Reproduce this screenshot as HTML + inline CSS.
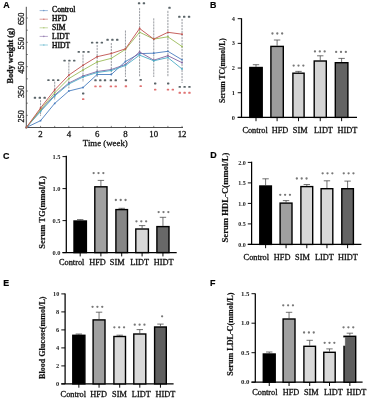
<!DOCTYPE html>
<html><head><meta charset="utf-8"><style>
html,body{margin:0;padding:0;background:#fff;}
body{width:369px;height:400px;overflow:hidden;font-family:"Liberation Serif", serif;}
svg{display:block;will-change:transform;}
text{stroke-linejoin:round;}
.t{stroke:#111;stroke-width:0.3px;}
.t2{stroke:#111;stroke-width:0.2px;}
</style></head><body>
<svg width="369" height="400" viewBox="0 0 369 400">
<rect width="369" height="400" fill="#fff"/>
<text x="3.3" y="7.9" font-family='"Liberation Sans", sans-serif' font-weight="bold" font-size="8.9" class="t2">A</text>
<line x1="26.3" y1="6.8" x2="26.3" y2="127.5" stroke="#222" stroke-width="0.8"/>
<line x1="26.3" y1="127.5" x2="183" y2="127.5" stroke="#222" stroke-width="0.8"/>
<line x1="26.3" y1="115.34" x2="27.900000000000002" y2="115.34" stroke="#333" stroke-width="0.6"/>
<line x1="26.3" y1="103.17" x2="27.900000000000002" y2="103.17" stroke="#333" stroke-width="0.6"/>
<line x1="26.3" y1="91" x2="27.900000000000002" y2="91" stroke="#333" stroke-width="0.6"/>
<line x1="26.3" y1="78.84" x2="27.900000000000002" y2="78.84" stroke="#333" stroke-width="0.6"/>
<line x1="26.3" y1="66.68" x2="27.900000000000002" y2="66.68" stroke="#333" stroke-width="0.6"/>
<line x1="26.3" y1="54.51" x2="27.900000000000002" y2="54.51" stroke="#333" stroke-width="0.6"/>
<line x1="26.3" y1="42.34" x2="27.900000000000002" y2="42.34" stroke="#333" stroke-width="0.6"/>
<line x1="26.3" y1="30.18" x2="27.900000000000002" y2="30.18" stroke="#333" stroke-width="0.6"/>
<line x1="26.3" y1="18.02" x2="27.900000000000002" y2="18.02" stroke="#333" stroke-width="0.6"/>
<text transform="translate(23.9,116.24) rotate(-90)" text-anchor="middle" font-family='"Liberation Serif", serif' font-size="8.2" fill="#222" class="t">250</text>
<text transform="translate(23.9,91.91) rotate(-90)" text-anchor="middle" font-family='"Liberation Serif", serif' font-size="8.2" fill="#222" class="t">350</text>
<text transform="translate(23.9,67.58) rotate(-90)" text-anchor="middle" font-family='"Liberation Serif", serif' font-size="8.2" fill="#222" class="t">450</text>
<text transform="translate(23.9,43.24) rotate(-90)" text-anchor="middle" font-family='"Liberation Serif", serif' font-size="8.2" fill="#222" class="t">550</text>
<text transform="translate(23.9,18.91) rotate(-90)" text-anchor="middle" font-family='"Liberation Serif", serif' font-size="8.2" fill="#222" class="t">650</text>
<line x1="40.55" y1="127.5" x2="40.55" y2="125.9" stroke="#333" stroke-width="0.6"/>
<line x1="54.7" y1="127.5" x2="54.7" y2="125.9" stroke="#333" stroke-width="0.6"/>
<line x1="68.85" y1="127.5" x2="68.85" y2="125.9" stroke="#333" stroke-width="0.6"/>
<line x1="83" y1="127.5" x2="83" y2="125.9" stroke="#333" stroke-width="0.6"/>
<line x1="97.15" y1="127.5" x2="97.15" y2="125.9" stroke="#333" stroke-width="0.6"/>
<line x1="111.3" y1="127.5" x2="111.3" y2="125.9" stroke="#333" stroke-width="0.6"/>
<line x1="125.45" y1="127.5" x2="125.45" y2="125.9" stroke="#333" stroke-width="0.6"/>
<line x1="139.6" y1="127.5" x2="139.6" y2="125.9" stroke="#333" stroke-width="0.6"/>
<line x1="153.75" y1="127.5" x2="153.75" y2="125.9" stroke="#333" stroke-width="0.6"/>
<line x1="167.9" y1="127.5" x2="167.9" y2="125.9" stroke="#333" stroke-width="0.6"/>
<line x1="182.05" y1="127.5" x2="182.05" y2="125.9" stroke="#333" stroke-width="0.6"/>
<text x="40.55" y="136.6" text-anchor="middle" font-family='"Liberation Serif", serif' font-size="8.8" fill="#222" class="t">2</text>
<text x="68.85" y="136.6" text-anchor="middle" font-family='"Liberation Serif", serif' font-size="8.8" fill="#222" class="t">4</text>
<text x="97.15" y="136.6" text-anchor="middle" font-family='"Liberation Serif", serif' font-size="8.8" fill="#222" class="t">6</text>
<text x="125.45" y="136.6" text-anchor="middle" font-family='"Liberation Serif", serif' font-size="8.8" fill="#222" class="t">8</text>
<text x="153.75" y="136.6" text-anchor="middle" font-family='"Liberation Serif", serif' font-size="8.8" fill="#222" class="t">10</text>
<text x="182.05" y="136.6" text-anchor="middle" font-family='"Liberation Serif", serif' font-size="8.8" fill="#222" class="t">12</text>
<text x="105.3" y="146.3" text-anchor="middle" font-family='"Liberation Serif", serif' font-size="8.8" fill="#222" class="t">Time (week)</text>
<text transform="translate(13.2,55.8) rotate(-90) scale(0.93,1)" text-anchor="middle" font-family='"Liberation Serif", serif' font-weight="bold" font-size="8.9" fill="#111" class="t">Body weight (g)</text>
<line x1="40.55" y1="100.2" x2="40.55" y2="116" stroke="#9a9ca2" stroke-width="1.0" stroke-dasharray="2.2 0.8"/>
<line x1="54.7" y1="81.6" x2="54.7" y2="100" stroke="#9a9ca2" stroke-width="1.0" stroke-dasharray="2.2 0.8"/>
<line x1="68.85" y1="62.5" x2="68.85" y2="88.3" stroke="#9a9ca2" stroke-width="1.0" stroke-dasharray="2.2 0.8"/>
<line x1="83" y1="54.6" x2="83" y2="82" stroke="#9a9ca2" stroke-width="1.0" stroke-dasharray="2.2 0.8"/>
<line x1="97.15" y1="45" x2="97.15" y2="77" stroke="#9a9ca2" stroke-width="1.0" stroke-dasharray="2.2 0.8"/>
<line x1="111.3" y1="43" x2="111.3" y2="75" stroke="#9a9ca2" stroke-width="1.0" stroke-dasharray="2.2 0.8"/>
<line x1="125.45" y1="30.5" x2="125.45" y2="77" stroke="#9a9ca2" stroke-width="1.0" stroke-dasharray="2.2 0.8"/>
<line x1="139.6" y1="8.1" x2="139.6" y2="77" stroke="#9a9ca2" stroke-width="1.0" stroke-dasharray="2.2 0.8"/>
<line x1="153.75" y1="18.3" x2="153.75" y2="77" stroke="#9a9ca2" stroke-width="1.0" stroke-dasharray="2.2 0.8"/>
<line x1="167.9" y1="10.8" x2="167.9" y2="77" stroke="#9a9ca2" stroke-width="1.0" stroke-dasharray="2.2 0.8"/>
<line x1="182.05" y1="19" x2="182.05" y2="83" stroke="#9a9ca2" stroke-width="1.0" stroke-dasharray="2.2 0.8"/>
<polyline points="26.4,127.4 40.55,120.7 54.7,103.4 68.85,91 83,87.5 97.15,74.5 111.3,74.5 125.45,61.5 139.6,53.6 153.75,53.2 167.9,51.3 182.05,59.8" fill="none" stroke="#4a7ec0" stroke-width="0.9"/>
<circle cx="26.4" cy="127.4" r="0.9" fill="#4a7ec0"/>
<circle cx="40.55" cy="120.7" r="0.9" fill="#4a7ec0"/>
<circle cx="54.7" cy="103.4" r="0.9" fill="#4a7ec0"/>
<circle cx="68.85" cy="91" r="0.9" fill="#4a7ec0"/>
<circle cx="83" cy="87.5" r="0.9" fill="#4a7ec0"/>
<circle cx="97.15" cy="74.5" r="0.9" fill="#4a7ec0"/>
<circle cx="111.3" cy="74.5" r="0.9" fill="#4a7ec0"/>
<circle cx="125.45" cy="61.5" r="0.9" fill="#4a7ec0"/>
<circle cx="139.6" cy="53.6" r="0.9" fill="#4a7ec0"/>
<circle cx="153.75" cy="53.2" r="0.9" fill="#4a7ec0"/>
<circle cx="167.9" cy="51.3" r="0.9" fill="#4a7ec0"/>
<circle cx="182.05" cy="59.8" r="0.9" fill="#4a7ec0"/>
<polyline points="26.4,127.4 40.55,110.5 54.7,95 68.85,83 83,76 97.15,71.5 111.3,69.5 125.45,64.5 139.6,51.9 153.75,60.2 167.9,55.7 182.05,62.7" fill="none" stroke="#8064a2" stroke-width="0.9"/>
<circle cx="26.4" cy="127.4" r="0.9" fill="#8064a2"/>
<circle cx="40.55" cy="110.5" r="0.9" fill="#8064a2"/>
<circle cx="54.7" cy="95" r="0.9" fill="#8064a2"/>
<circle cx="68.85" cy="83" r="0.9" fill="#8064a2"/>
<circle cx="83" cy="76" r="0.9" fill="#8064a2"/>
<circle cx="97.15" cy="71.5" r="0.9" fill="#8064a2"/>
<circle cx="111.3" cy="69.5" r="0.9" fill="#8064a2"/>
<circle cx="125.45" cy="64.5" r="0.9" fill="#8064a2"/>
<circle cx="139.6" cy="51.9" r="0.9" fill="#8064a2"/>
<circle cx="153.75" cy="60.2" r="0.9" fill="#8064a2"/>
<circle cx="167.9" cy="55.7" r="0.9" fill="#8064a2"/>
<circle cx="182.05" cy="62.7" r="0.9" fill="#8064a2"/>
<polyline points="26.4,127.4 40.55,111.5 54.7,96 68.85,84 83,77 97.15,72.5 111.3,70.5 125.45,65.5 139.6,55.1 153.75,60.8 167.9,57.6 182.05,69" fill="none" stroke="#4bacc6" stroke-width="0.9"/>
<circle cx="26.4" cy="127.4" r="0.9" fill="#4bacc6"/>
<circle cx="40.55" cy="111.5" r="0.9" fill="#4bacc6"/>
<circle cx="54.7" cy="96" r="0.9" fill="#4bacc6"/>
<circle cx="68.85" cy="84" r="0.9" fill="#4bacc6"/>
<circle cx="83" cy="77" r="0.9" fill="#4bacc6"/>
<circle cx="97.15" cy="72.5" r="0.9" fill="#4bacc6"/>
<circle cx="111.3" cy="70.5" r="0.9" fill="#4bacc6"/>
<circle cx="125.45" cy="65.5" r="0.9" fill="#4bacc6"/>
<circle cx="139.6" cy="55.1" r="0.9" fill="#4bacc6"/>
<circle cx="153.75" cy="60.8" r="0.9" fill="#4bacc6"/>
<circle cx="167.9" cy="57.6" r="0.9" fill="#4bacc6"/>
<circle cx="182.05" cy="69" r="0.9" fill="#4bacc6"/>
<polyline points="26.4,127.4 40.55,109.5 54.7,92.8 68.85,78.6 83,70 97.15,62 111.3,58.3 125.45,49.4 139.6,32.2 153.75,39.1 167.9,36.8 182.05,46.5" fill="none" stroke="#9bbb59" stroke-width="0.9"/>
<circle cx="26.4" cy="127.4" r="0.9" fill="#9bbb59"/>
<circle cx="40.55" cy="109.5" r="0.9" fill="#9bbb59"/>
<circle cx="54.7" cy="92.8" r="0.9" fill="#9bbb59"/>
<circle cx="68.85" cy="78.6" r="0.9" fill="#9bbb59"/>
<circle cx="83" cy="70" r="0.9" fill="#9bbb59"/>
<circle cx="97.15" cy="62" r="0.9" fill="#9bbb59"/>
<circle cx="111.3" cy="58.3" r="0.9" fill="#9bbb59"/>
<circle cx="125.45" cy="49.4" r="0.9" fill="#9bbb59"/>
<circle cx="139.6" cy="32.2" r="0.9" fill="#9bbb59"/>
<circle cx="153.75" cy="39.1" r="0.9" fill="#9bbb59"/>
<circle cx="167.9" cy="36.8" r="0.9" fill="#9bbb59"/>
<circle cx="182.05" cy="46.5" r="0.9" fill="#9bbb59"/>
<polyline points="26.4,127.4 40.55,108 54.7,89.9 68.85,75.1 83,65.3 97.15,56.7 111.3,53.5 125.45,48.8 139.6,28.5 153.75,39.1 167.9,32.3 182.05,34.2" fill="none" stroke="#c0504d" stroke-width="0.9"/>
<circle cx="26.4" cy="127.4" r="0.9" fill="#c0504d"/>
<circle cx="40.55" cy="108" r="0.9" fill="#c0504d"/>
<circle cx="54.7" cy="89.9" r="0.9" fill="#c0504d"/>
<circle cx="68.85" cy="75.1" r="0.9" fill="#c0504d"/>
<circle cx="83" cy="65.3" r="0.9" fill="#c0504d"/>
<circle cx="97.15" cy="56.7" r="0.9" fill="#c0504d"/>
<circle cx="111.3" cy="53.5" r="0.9" fill="#c0504d"/>
<circle cx="125.45" cy="48.8" r="0.9" fill="#c0504d"/>
<circle cx="139.6" cy="28.5" r="0.9" fill="#c0504d"/>
<circle cx="153.75" cy="39.1" r="0.9" fill="#c0504d"/>
<circle cx="167.9" cy="32.3" r="0.9" fill="#c0504d"/>
<circle cx="182.05" cy="34.2" r="0.9" fill="#c0504d"/>
<rect x="33.75" y="96.85" width="2.4" height="1.9" rx="0.6" fill="#5a6468"/>
<rect x="38.6" y="96.85" width="2.4" height="1.9" rx="0.6" fill="#5a6468"/>
<rect x="43.45" y="96.85" width="2.4" height="1.9" rx="0.6" fill="#5a6468"/>
<rect x="47.25" y="79.15" width="2.4" height="1.9" rx="0.6" fill="#5a6468"/>
<rect x="52.1" y="79.15" width="2.4" height="1.9" rx="0.6" fill="#5a6468"/>
<rect x="56.95" y="79.15" width="2.4" height="1.9" rx="0.6" fill="#5a6468"/>
<rect x="63.35" y="59.65" width="2.4" height="1.9" rx="0.6" fill="#5a6468"/>
<rect x="68.2" y="59.65" width="2.4" height="1.9" rx="0.6" fill="#5a6468"/>
<rect x="73.05" y="59.65" width="2.4" height="1.9" rx="0.6" fill="#5a6468"/>
<rect x="77.55" y="50.95" width="2.4" height="1.9" rx="0.6" fill="#5a6468"/>
<rect x="82.4" y="50.95" width="2.4" height="1.9" rx="0.6" fill="#5a6468"/>
<rect x="87.25" y="50.95" width="2.4" height="1.9" rx="0.6" fill="#5a6468"/>
<rect x="90.95" y="41.65" width="2.4" height="1.9" rx="0.6" fill="#5a6468"/>
<rect x="95.8" y="41.65" width="2.4" height="1.9" rx="0.6" fill="#5a6468"/>
<rect x="100.65" y="41.65" width="2.4" height="1.9" rx="0.6" fill="#5a6468"/>
<rect x="106.35" y="38.85" width="2.4" height="1.9" rx="0.6" fill="#5a6468"/>
<rect x="111.2" y="38.85" width="2.4" height="1.9" rx="0.6" fill="#5a6468"/>
<rect x="116.05" y="38.85" width="2.4" height="1.9" rx="0.6" fill="#5a6468"/>
<rect x="137.88" y="2.35" width="2.4" height="1.9" rx="0.6" fill="#5a6468"/>
<rect x="142.72" y="2.35" width="2.4" height="1.9" rx="0.6" fill="#5a6468"/>
<rect x="168.3" y="6.85" width="2.4" height="1.9" rx="0.6" fill="#5a6468"/>
<rect x="178.15" y="15.85" width="2.4" height="1.9" rx="0.6" fill="#5a6468"/>
<rect x="183" y="15.85" width="2.4" height="1.9" rx="0.6" fill="#5a6468"/>
<rect x="187.85" y="15.85" width="2.4" height="1.9" rx="0.6" fill="#5a6468"/>
<rect x="82" y="92.55" width="2.4" height="1.9" rx="0.6" fill="#5a6468"/>
<rect x="94.28" y="79.35" width="2.4" height="1.9" rx="0.6" fill="#5a6468"/>
<rect x="99.12" y="79.35" width="2.4" height="1.9" rx="0.6" fill="#5a6468"/>
<rect x="103.8" y="79.35" width="2.4" height="1.9" rx="0.6" fill="#5a6468"/>
<rect x="109.67" y="79.35" width="2.4" height="1.9" rx="0.6" fill="#5a6468"/>
<rect x="114.52" y="79.35" width="2.4" height="1.9" rx="0.6" fill="#5a6468"/>
<rect x="124.7" y="79.25" width="2.4" height="1.9" rx="0.6" fill="#5a6468"/>
<rect x="139.5" y="78.95" width="2.4" height="1.9" rx="0.6" fill="#5a6468"/>
<rect x="154" y="82.55" width="2.4" height="1.9" rx="0.6" fill="#5a6468"/>
<rect x="167" y="82.55" width="2.4" height="1.9" rx="0.6" fill="#5a6468"/>
<rect x="178.55" y="85.95" width="2.4" height="1.9" rx="0.6" fill="#5a6468"/>
<rect x="183.4" y="85.95" width="2.4" height="1.9" rx="0.6" fill="#5a6468"/>
<rect x="188.25" y="85.95" width="2.4" height="1.9" rx="0.6" fill="#5a6468"/>
<rect x="82" y="98.15" width="2.4" height="1.9" rx="0.6" fill="#e07272"/>
<rect x="94.28" y="85.45" width="2.4" height="1.9" rx="0.6" fill="#e07272"/>
<rect x="99.12" y="85.45" width="2.4" height="1.9" rx="0.6" fill="#e07272"/>
<rect x="109.67" y="85.45" width="2.4" height="1.9" rx="0.6" fill="#e07272"/>
<rect x="114.52" y="85.45" width="2.4" height="1.9" rx="0.6" fill="#e07272"/>
<rect x="124.7" y="85.35" width="2.4" height="1.9" rx="0.6" fill="#e07272"/>
<rect x="139.5" y="85.15" width="2.4" height="1.9" rx="0.6" fill="#e07272"/>
<rect x="154" y="88.65" width="2.4" height="1.9" rx="0.6" fill="#e07272"/>
<rect x="166.78" y="88.65" width="2.4" height="1.9" rx="0.6" fill="#e07272"/>
<rect x="171.62" y="88.65" width="2.4" height="1.9" rx="0.6" fill="#e07272"/>
<rect x="178.55" y="91.85" width="2.4" height="1.9" rx="0.6" fill="#e07272"/>
<rect x="183.4" y="91.85" width="2.4" height="1.9" rx="0.6" fill="#e07272"/>
<rect x="188.25" y="91.85" width="2.4" height="1.9" rx="0.6" fill="#e07272"/>
<line x1="39.6" y1="10.6" x2="47.9" y2="10.6" stroke="#4f81bd" stroke-width="1" opacity="0.55"/>
<circle cx="43.8" cy="10.6" r="0.8" fill="#4f81bd" opacity="0.6"/>
<text x="52.1" y="12.2" font-family='"Liberation Serif", serif' font-size="7.6" fill="#111" class="t" style="stroke-width:0.4px">Control</text>
<line x1="39.6" y1="19.2" x2="47.9" y2="19.2" stroke="#c0504d" stroke-width="1" opacity="0.55"/>
<circle cx="43.8" cy="19.2" r="0.8" fill="#c0504d" opacity="0.6"/>
<text x="52.1" y="21.15" font-family='"Liberation Serif", serif' font-size="7.6" fill="#111" class="t" style="stroke-width:0.4px">HFD</text>
<line x1="39.6" y1="27.8" x2="47.9" y2="27.8" stroke="#9bbb59" stroke-width="1" opacity="0.55"/>
<circle cx="43.8" cy="27.8" r="0.8" fill="#9bbb59" opacity="0.6"/>
<text x="52.1" y="30.1" font-family='"Liberation Serif", serif' font-size="7.6" fill="#111" class="t" style="stroke-width:0.4px">SIM</text>
<line x1="39.6" y1="36.4" x2="47.9" y2="36.4" stroke="#8064a2" stroke-width="1" opacity="0.55"/>
<circle cx="43.8" cy="36.4" r="0.8" fill="#8064a2" opacity="0.6"/>
<text x="52.1" y="39.05" font-family='"Liberation Serif", serif' font-size="7.6" fill="#111" class="t" style="stroke-width:0.4px">LIDT</text>
<line x1="39.6" y1="45" x2="47.9" y2="45" stroke="#4bacc6" stroke-width="1" opacity="0.55"/>
<circle cx="43.8" cy="45" r="0.8" fill="#4bacc6" opacity="0.6"/>
<text x="52.1" y="48" font-family='"Liberation Serif", serif' font-size="7.6" fill="#111" class="t" style="stroke-width:0.4px">HIDT</text>
<text x="209.9" y="8.1" font-family='"Liberation Sans", sans-serif' font-weight="bold" font-size="8.9" class="t2">B</text>
<line x1="241.5" y1="18.3" x2="241.5" y2="117.4" stroke="#000" stroke-width="1.25"/>
<line x1="237.7" y1="117.4" x2="357" y2="117.4" stroke="#000" stroke-width="1.25"/>
<line x1="237.7" y1="117.4" x2="241.5" y2="117.4" stroke="#000" stroke-width="0.95"/>
<text x="234.9" y="119.5" text-anchor="end" font-family='"Liberation Serif", serif' font-weight="bold" font-size="6.3" fill="#222">0</text>
<line x1="237.7" y1="92.72" x2="241.5" y2="92.72" stroke="#000" stroke-width="0.95"/>
<text x="234.9" y="94.82" text-anchor="end" font-family='"Liberation Serif", serif' font-weight="bold" font-size="6.3" fill="#222">1</text>
<line x1="237.7" y1="68.04" x2="241.5" y2="68.04" stroke="#000" stroke-width="0.95"/>
<text x="234.9" y="70.14" text-anchor="end" font-family='"Liberation Serif", serif' font-weight="bold" font-size="6.3" fill="#222">2</text>
<line x1="237.7" y1="43.36" x2="241.5" y2="43.36" stroke="#000" stroke-width="0.95"/>
<text x="234.9" y="45.46" text-anchor="end" font-family='"Liberation Serif", serif' font-weight="bold" font-size="6.3" fill="#222">3</text>
<line x1="237.7" y1="18.68" x2="241.5" y2="18.68" stroke="#000" stroke-width="0.95"/>
<text x="234.9" y="20.78" text-anchor="end" font-family='"Liberation Serif", serif' font-weight="bold" font-size="6.3" fill="#222">4</text>
<text transform="translate(225.2,70.6) rotate(-90)" text-anchor="middle" font-family='"Liberation Serif", serif' font-weight="bold" font-size="8.5" fill="#111" class="t2" textLength="65" lengthAdjust="spacingAndGlyphs">Serum TC(mmol/L)</text>
<line x1="256" y1="64.7" x2="256" y2="66.8" stroke="#444" stroke-width="0.75"/>
<line x1="252.8" y1="64.7" x2="259.2" y2="64.7" stroke="#444" stroke-width="0.75"/>
<rect x="249.8" y="67.5" width="12.4" height="49.9" fill="#000" stroke="#000" stroke-width="1.4"/>
<line x1="256" y1="117.4" x2="256" y2="121.2" stroke="#000" stroke-width="0.95"/>
<text x="255.1" y="132.6" text-anchor="middle" font-family='"Liberation Serif", serif' font-size="8.3" fill="#111" class="t">Control</text>
<line x1="277.1" y1="40" x2="277.1" y2="45.7" stroke="#444" stroke-width="0.75"/>
<line x1="273.9" y1="40" x2="280.3" y2="40" stroke="#444" stroke-width="0.75"/>
<rect x="270.9" y="46.4" width="12.4" height="71" fill="#9c9c9c" stroke="#000" stroke-width="1.4"/>
<line x1="277.1" y1="117.4" x2="277.1" y2="121.2" stroke="#000" stroke-width="0.95"/>
<text x="280" y="132.6" text-anchor="middle" font-family='"Liberation Serif", serif' font-size="8.3" fill="#111" class="t">HFD</text>
<line x1="298.5" y1="71.4" x2="298.5" y2="72.5" stroke="#444" stroke-width="0.75"/>
<line x1="295.3" y1="71.4" x2="301.7" y2="71.4" stroke="#444" stroke-width="0.75"/>
<rect x="292.9" y="73.2" width="11.2" height="44.2" fill="#d4d4d4" stroke="#000" stroke-width="1.4"/>
<line x1="298.5" y1="117.4" x2="298.5" y2="121.2" stroke="#000" stroke-width="0.95"/>
<text x="300.2" y="132.6" text-anchor="middle" font-family='"Liberation Serif", serif' font-size="8.3" fill="#111" class="t">SIM</text>
<line x1="320.25" y1="55.8" x2="320.25" y2="60.3" stroke="#444" stroke-width="0.75"/>
<line x1="317.05" y1="55.8" x2="323.45" y2="55.8" stroke="#444" stroke-width="0.75"/>
<rect x="314.2" y="61" width="12.1" height="56.4" fill="#d4d4d4" stroke="#000" stroke-width="1.4"/>
<line x1="320.25" y1="117.4" x2="320.25" y2="121.2" stroke="#000" stroke-width="0.95"/>
<text x="323.5" y="132.6" text-anchor="middle" font-family='"Liberation Serif", serif' font-size="8.3" fill="#111" class="t">LIDT</text>
<line x1="341.6" y1="58.4" x2="341.6" y2="62" stroke="#444" stroke-width="0.75"/>
<line x1="338.4" y1="58.4" x2="344.8" y2="58.4" stroke="#444" stroke-width="0.75"/>
<rect x="335.3" y="62.7" width="12.6" height="54.7" fill="#636363" stroke="#000" stroke-width="1.4"/>
<line x1="341.6" y1="117.4" x2="341.6" y2="121.2" stroke="#000" stroke-width="0.95"/>
<text x="347.4" y="132.6" text-anchor="middle" font-family='"Liberation Serif", serif' font-size="8.3" fill="#111" class="t">HIDT</text>
<circle cx="272.45" cy="33.5" r="1.15" fill="#787878"/>
<circle cx="277.3" cy="33.5" r="1.15" fill="#787878"/>
<circle cx="282.15" cy="33.5" r="1.15" fill="#787878"/>
<circle cx="293.65" cy="65.6" r="1.15" fill="#787878"/>
<circle cx="298.5" cy="65.6" r="1.15" fill="#787878"/>
<circle cx="303.35" cy="65.6" r="1.15" fill="#787878"/>
<circle cx="314.95" cy="51.4" r="1.15" fill="#787878"/>
<circle cx="319.8" cy="51.4" r="1.15" fill="#787878"/>
<circle cx="324.65" cy="51.4" r="1.15" fill="#787878"/>
<circle cx="336.15" cy="51.9" r="1.15" fill="#787878"/>
<circle cx="341" cy="51.9" r="1.15" fill="#787878"/>
<circle cx="345.85" cy="51.9" r="1.15" fill="#787878"/>
<text x="3.1" y="158.8" font-family='"Liberation Sans", sans-serif' font-weight="bold" font-size="8.9" class="t2">C</text>
<line x1="66.3" y1="155.8" x2="66.3" y2="252.6" stroke="#000" stroke-width="1.25"/>
<line x1="62.5" y1="252.6" x2="176.7" y2="252.6" stroke="#000" stroke-width="1.25"/>
<line x1="62.5" y1="252.6" x2="66.3" y2="252.6" stroke="#000" stroke-width="0.95"/>
<text x="60.5" y="254.7" text-anchor="end" font-family='"Liberation Serif", serif' font-weight="bold" font-size="6.3" fill="#222" textLength="8.0" lengthAdjust="spacingAndGlyphs">0.0</text>
<line x1="62.5" y1="220.6" x2="66.3" y2="220.6" stroke="#000" stroke-width="0.95"/>
<text x="60.5" y="222.7" text-anchor="end" font-family='"Liberation Serif", serif' font-weight="bold" font-size="6.3" fill="#222" textLength="8.0" lengthAdjust="spacingAndGlyphs">0.5</text>
<line x1="62.5" y1="188.6" x2="66.3" y2="188.6" stroke="#000" stroke-width="0.95"/>
<text x="60.5" y="190.7" text-anchor="end" font-family='"Liberation Serif", serif' font-weight="bold" font-size="6.3" fill="#222" textLength="8.0" lengthAdjust="spacingAndGlyphs">1.0</text>
<line x1="62.5" y1="156.6" x2="66.3" y2="156.6" stroke="#000" stroke-width="0.95"/>
<text x="60.5" y="158.7" text-anchor="end" font-family='"Liberation Serif", serif' font-weight="bold" font-size="6.3" fill="#222" textLength="8.0" lengthAdjust="spacingAndGlyphs">1.5</text>
<text transform="translate(45.2,212.3) rotate(-90)" text-anchor="middle" font-family='"Liberation Serif", serif' font-weight="bold" font-size="8.5" fill="#111" class="t2">Serum TG(mmol/L)</text>
<line x1="80.2" y1="219.6" x2="80.2" y2="220.3" stroke="#444" stroke-width="0.75"/>
<line x1="77" y1="219.6" x2="83.4" y2="219.6" stroke="#444" stroke-width="0.75"/>
<rect x="74" y="221" width="12.4" height="31.6" fill="#000" stroke="#000" stroke-width="1.4"/>
<line x1="80.2" y1="252.6" x2="80.2" y2="256.4" stroke="#000" stroke-width="0.95"/>
<text x="71.7" y="265.4" text-anchor="middle" font-family='"Liberation Serif", serif' font-size="8.3" fill="#111" class="t">Control</text>
<line x1="100.9" y1="180.4" x2="100.9" y2="186.1" stroke="#444" stroke-width="0.75"/>
<line x1="97.7" y1="180.4" x2="104.1" y2="180.4" stroke="#444" stroke-width="0.75"/>
<rect x="94.8" y="186.8" width="12.2" height="65.8" fill="#a0a0a0" stroke="#000" stroke-width="1.4"/>
<line x1="100.9" y1="252.6" x2="100.9" y2="256.4" stroke="#000" stroke-width="0.95"/>
<text x="97.5" y="265.4" text-anchor="middle" font-family='"Liberation Serif", serif' font-size="8.3" fill="#111" class="t">HFD</text>
<line x1="121.7" y1="208.3" x2="121.7" y2="208.9" stroke="#444" stroke-width="0.75"/>
<line x1="118.5" y1="208.3" x2="124.9" y2="208.3" stroke="#444" stroke-width="0.75"/>
<rect x="115.9" y="209.6" width="11.6" height="43" fill="#868686" stroke="#000" stroke-width="1.4"/>
<line x1="121.7" y1="252.6" x2="121.7" y2="256.4" stroke="#000" stroke-width="0.95"/>
<text x="117.2" y="265.4" text-anchor="middle" font-family='"Liberation Serif", serif' font-size="8.3" fill="#111" class="t">SIM</text>
<line x1="142.1" y1="225.6" x2="142.1" y2="228.3" stroke="#444" stroke-width="0.75"/>
<line x1="138.9" y1="225.6" x2="145.3" y2="225.6" stroke="#444" stroke-width="0.75"/>
<rect x="135.8" y="229" width="12.6" height="23.6" fill="#d8d8d8" stroke="#000" stroke-width="1.4"/>
<line x1="142.1" y1="252.6" x2="142.1" y2="256.4" stroke="#000" stroke-width="0.95"/>
<text x="139.7" y="265.4" text-anchor="middle" font-family='"Liberation Serif", serif' font-size="8.3" fill="#111" class="t">LIDT</text>
<line x1="162.95" y1="217.3" x2="162.95" y2="225.9" stroke="#444" stroke-width="0.75"/>
<line x1="159.75" y1="217.3" x2="166.15" y2="217.3" stroke="#444" stroke-width="0.75"/>
<rect x="156.9" y="226.6" width="12.1" height="26" fill="#686868" stroke="#000" stroke-width="1.4"/>
<line x1="162.95" y1="252.6" x2="162.95" y2="256.4" stroke="#000" stroke-width="0.95"/>
<text x="163.7" y="265.4" text-anchor="middle" font-family='"Liberation Serif", serif' font-size="8.3" fill="#111" class="t">HIDT</text>
<circle cx="93.65" cy="173.1" r="1.15" fill="#787878"/>
<circle cx="98.5" cy="173.1" r="1.15" fill="#787878"/>
<circle cx="103.35" cy="173.1" r="1.15" fill="#787878"/>
<circle cx="115.85" cy="200" r="1.15" fill="#787878"/>
<circle cx="120.7" cy="200" r="1.15" fill="#787878"/>
<circle cx="125.55" cy="200" r="1.15" fill="#787878"/>
<circle cx="136.45" cy="221.3" r="1.15" fill="#787878"/>
<circle cx="141.3" cy="221.3" r="1.15" fill="#787878"/>
<circle cx="146.15" cy="221.3" r="1.15" fill="#787878"/>
<circle cx="158.65" cy="212.1" r="1.15" fill="#787878"/>
<circle cx="163.5" cy="212.1" r="1.15" fill="#787878"/>
<circle cx="168.35" cy="212.1" r="1.15" fill="#787878"/>
<text x="210.2" y="158.3" font-family='"Liberation Sans", sans-serif' font-weight="bold" font-size="8.9" class="t2">D</text>
<line x1="251.6" y1="161.7" x2="251.6" y2="244.4" stroke="#000" stroke-width="1.25"/>
<line x1="247.8" y1="244.4" x2="361.4" y2="244.4" stroke="#000" stroke-width="1.25"/>
<line x1="247.8" y1="244.4" x2="251.6" y2="244.4" stroke="#000" stroke-width="0.95"/>
<text x="245.8" y="246.5" text-anchor="end" font-family='"Liberation Serif", serif' font-weight="bold" font-size="6.3" fill="#222" textLength="7.5" lengthAdjust="spacingAndGlyphs">0.0</text>
<line x1="247.8" y1="223.9" x2="251.6" y2="223.9" stroke="#000" stroke-width="0.95"/>
<text x="245.8" y="226" text-anchor="end" font-family='"Liberation Serif", serif' font-weight="bold" font-size="6.3" fill="#222" textLength="7.5" lengthAdjust="spacingAndGlyphs">0.5</text>
<line x1="247.8" y1="203.4" x2="251.6" y2="203.4" stroke="#000" stroke-width="0.95"/>
<text x="245.8" y="205.5" text-anchor="end" font-family='"Liberation Serif", serif' font-weight="bold" font-size="6.3" fill="#222" textLength="7.5" lengthAdjust="spacingAndGlyphs">1.0</text>
<line x1="247.8" y1="182.9" x2="251.6" y2="182.9" stroke="#000" stroke-width="0.95"/>
<text x="245.8" y="185" text-anchor="end" font-family='"Liberation Serif", serif' font-weight="bold" font-size="6.3" fill="#222" textLength="7.5" lengthAdjust="spacingAndGlyphs">1.5</text>
<line x1="247.8" y1="162.4" x2="251.6" y2="162.4" stroke="#000" stroke-width="0.95"/>
<text x="245.8" y="164.5" text-anchor="end" font-family='"Liberation Serif", serif' font-weight="bold" font-size="6.3" fill="#222" textLength="7.5" lengthAdjust="spacingAndGlyphs">2.0</text>
<text transform="translate(228.3,197.5) rotate(-90)" text-anchor="middle" font-family='"Liberation Serif", serif' font-weight="bold" font-size="8.7" fill="#111" class="t2">Serum HDL-C(mmol/L)</text>
<line x1="265.6" y1="178.8" x2="265.6" y2="185.3" stroke="#444" stroke-width="0.75"/>
<line x1="262.4" y1="178.8" x2="268.8" y2="178.8" stroke="#444" stroke-width="0.75"/>
<rect x="259.8" y="186" width="11.6" height="58.4" fill="#000" stroke="#000" stroke-width="1.4"/>
<line x1="265.6" y1="244.4" x2="265.6" y2="248.2" stroke="#000" stroke-width="0.95"/>
<text x="256.3" y="259.8" text-anchor="middle" font-family='"Liberation Serif", serif' font-size="8.3" fill="#111" class="t">Control</text>
<line x1="286.05" y1="200.6" x2="286.05" y2="202.4" stroke="#444" stroke-width="0.75"/>
<line x1="282.85" y1="200.6" x2="289.25" y2="200.6" stroke="#444" stroke-width="0.75"/>
<rect x="280.1" y="203.1" width="11.9" height="41.3" fill="#a0a0a0" stroke="#000" stroke-width="1.4"/>
<line x1="286.05" y1="244.4" x2="286.05" y2="248.2" stroke="#000" stroke-width="0.95"/>
<text x="282.1" y="259.8" text-anchor="middle" font-family='"Liberation Serif", serif' font-size="8.3" fill="#111" class="t">HFD</text>
<line x1="306.8" y1="184.5" x2="306.8" y2="185.9" stroke="#444" stroke-width="0.75"/>
<line x1="303.6" y1="184.5" x2="310" y2="184.5" stroke="#444" stroke-width="0.75"/>
<rect x="300.9" y="186.6" width="11.8" height="57.8" fill="#d9d9d9" stroke="#000" stroke-width="1.4"/>
<line x1="306.8" y1="244.4" x2="306.8" y2="248.2" stroke="#000" stroke-width="0.95"/>
<text x="302.4" y="259.8" text-anchor="middle" font-family='"Liberation Serif", serif' font-size="8.3" fill="#111" class="t">SIM</text>
<line x1="326.95" y1="180.8" x2="326.95" y2="188" stroke="#444" stroke-width="0.75"/>
<line x1="323.75" y1="180.8" x2="330.15" y2="180.8" stroke="#444" stroke-width="0.75"/>
<rect x="321.1" y="188.7" width="11.7" height="55.7" fill="#d9d9d9" stroke="#000" stroke-width="1.4"/>
<line x1="326.95" y1="244.4" x2="326.95" y2="248.2" stroke="#000" stroke-width="0.95"/>
<text x="324.4" y="259.8" text-anchor="middle" font-family='"Liberation Serif", serif' font-size="8.3" fill="#111" class="t">LIDT</text>
<line x1="347.6" y1="181.1" x2="347.6" y2="188" stroke="#444" stroke-width="0.75"/>
<line x1="344.4" y1="181.1" x2="350.8" y2="181.1" stroke="#444" stroke-width="0.75"/>
<rect x="341.8" y="188.7" width="11.6" height="55.7" fill="#646464" stroke="#000" stroke-width="1.4"/>
<line x1="347.6" y1="244.4" x2="347.6" y2="248.2" stroke="#000" stroke-width="0.95"/>
<text x="348" y="259.8" text-anchor="middle" font-family='"Liberation Serif", serif' font-size="8.3" fill="#111" class="t">HIDT</text>
<circle cx="280.25" cy="194.8" r="1.15" fill="#787878"/>
<circle cx="285.1" cy="194.8" r="1.15" fill="#787878"/>
<circle cx="289.95" cy="194.8" r="1.15" fill="#787878"/>
<circle cx="296.85" cy="178.5" r="1.15" fill="#787878"/>
<circle cx="301.7" cy="178.5" r="1.15" fill="#787878"/>
<circle cx="306.55" cy="178.5" r="1.15" fill="#787878"/>
<circle cx="322.65" cy="173.3" r="1.15" fill="#787878"/>
<circle cx="327.5" cy="173.3" r="1.15" fill="#787878"/>
<circle cx="332.35" cy="173.3" r="1.15" fill="#787878"/>
<circle cx="343.75" cy="173.3" r="1.15" fill="#787878"/>
<circle cx="348.6" cy="173.3" r="1.15" fill="#787878"/>
<circle cx="353.45" cy="173.3" r="1.15" fill="#787878"/>
<text x="3.3" y="286.3" font-family='"Liberation Sans", sans-serif' font-weight="bold" font-size="8.9" class="t2">E</text>
<line x1="65.1" y1="293.4" x2="65.1" y2="383.9" stroke="#000" stroke-width="1.25"/>
<line x1="61.3" y1="383.9" x2="173.6" y2="383.9" stroke="#000" stroke-width="1.25"/>
<line x1="61.3" y1="383.9" x2="65.1" y2="383.9" stroke="#000" stroke-width="0.95"/>
<text x="59.3" y="386" text-anchor="end" font-family='"Liberation Serif", serif' font-weight="bold" font-size="6.3" fill="#222" textLength="3.2" lengthAdjust="spacingAndGlyphs">0</text>
<line x1="61.3" y1="365.9" x2="65.1" y2="365.9" stroke="#000" stroke-width="0.95"/>
<text x="59.3" y="368" text-anchor="end" font-family='"Liberation Serif", serif' font-weight="bold" font-size="6.3" fill="#222" textLength="3.2" lengthAdjust="spacingAndGlyphs">2</text>
<line x1="61.3" y1="347.9" x2="65.1" y2="347.9" stroke="#000" stroke-width="0.95"/>
<text x="59.3" y="350" text-anchor="end" font-family='"Liberation Serif", serif' font-weight="bold" font-size="6.3" fill="#222" textLength="3.2" lengthAdjust="spacingAndGlyphs">4</text>
<line x1="61.3" y1="329.9" x2="65.1" y2="329.9" stroke="#000" stroke-width="0.95"/>
<text x="59.3" y="332" text-anchor="end" font-family='"Liberation Serif", serif' font-weight="bold" font-size="6.3" fill="#222" textLength="3.2" lengthAdjust="spacingAndGlyphs">6</text>
<line x1="61.3" y1="311.9" x2="65.1" y2="311.9" stroke="#000" stroke-width="0.95"/>
<text x="59.3" y="314" text-anchor="end" font-family='"Liberation Serif", serif' font-weight="bold" font-size="6.3" fill="#222" textLength="3.2" lengthAdjust="spacingAndGlyphs">8</text>
<line x1="61.3" y1="293.9" x2="65.1" y2="293.9" stroke="#000" stroke-width="0.95"/>
<text x="59.3" y="296" text-anchor="end" font-family='"Liberation Serif", serif' font-weight="bold" font-size="6.3" fill="#222" textLength="6.2" lengthAdjust="spacingAndGlyphs">10</text>
<text transform="translate(45.2,337.7) rotate(-90)" text-anchor="middle" font-family='"Liberation Serif", serif' font-weight="bold" font-size="8.1" fill="#111" class="t2">Blood Glucose(mmol/L)</text>
<line x1="78.85" y1="334" x2="78.85" y2="334.6" stroke="#444" stroke-width="0.75"/>
<line x1="75.65" y1="334" x2="82.05" y2="334" stroke="#444" stroke-width="0.75"/>
<rect x="72.8" y="335.3" width="12.1" height="48.6" fill="#000" stroke="#000" stroke-width="1.4"/>
<line x1="78.85" y1="383.9" x2="78.85" y2="387.7" stroke="#000" stroke-width="0.95"/>
<text x="73.3" y="397.3" text-anchor="middle" font-family='"Liberation Serif", serif' font-size="8.3" fill="#111" class="t">Control</text>
<line x1="99.05" y1="312.2" x2="99.05" y2="319.2" stroke="#444" stroke-width="0.75"/>
<line x1="95.85" y1="312.2" x2="102.25" y2="312.2" stroke="#444" stroke-width="0.75"/>
<rect x="93.1" y="319.9" width="11.9" height="64" fill="#a0a0a0" stroke="#000" stroke-width="1.4"/>
<line x1="99.05" y1="383.9" x2="99.05" y2="387.7" stroke="#000" stroke-width="0.95"/>
<text x="98.6" y="397.3" text-anchor="middle" font-family='"Liberation Serif", serif' font-size="8.3" fill="#111" class="t">HFD</text>
<line x1="119.7" y1="335.2" x2="119.7" y2="335.8" stroke="#444" stroke-width="0.75"/>
<line x1="116.5" y1="335.2" x2="122.9" y2="335.2" stroke="#444" stroke-width="0.75"/>
<rect x="113.9" y="336.5" width="11.6" height="47.4" fill="#d9d9d9" stroke="#000" stroke-width="1.4"/>
<line x1="119.7" y1="383.9" x2="119.7" y2="387.7" stroke="#000" stroke-width="0.95"/>
<text x="119.5" y="397.3" text-anchor="middle" font-family='"Liberation Serif", serif' font-size="8.3" fill="#111" class="t">SIM</text>
<line x1="139.8" y1="329.6" x2="139.8" y2="333.3" stroke="#444" stroke-width="0.75"/>
<line x1="136.6" y1="329.6" x2="143" y2="329.6" stroke="#444" stroke-width="0.75"/>
<rect x="133.8" y="334" width="12" height="49.9" fill="#d9d9d9" stroke="#000" stroke-width="1.4"/>
<line x1="139.8" y1="383.9" x2="139.8" y2="387.7" stroke="#000" stroke-width="0.95"/>
<text x="141.3" y="397.3" text-anchor="middle" font-family='"Liberation Serif", serif' font-size="8.3" fill="#111" class="t">LIDT</text>
<line x1="160.45" y1="324.1" x2="160.45" y2="326.3" stroke="#444" stroke-width="0.75"/>
<line x1="157.25" y1="324.1" x2="163.65" y2="324.1" stroke="#444" stroke-width="0.75"/>
<rect x="154.6" y="327" width="11.7" height="56.9" fill="#606060" stroke="#000" stroke-width="1.4"/>
<line x1="160.45" y1="383.9" x2="160.45" y2="387.7" stroke="#000" stroke-width="0.95"/>
<text x="165.5" y="397.3" text-anchor="middle" font-family='"Liberation Serif", serif' font-size="8.3" fill="#111" class="t">HIDT</text>
<circle cx="92.55" cy="306.8" r="1.15" fill="#787878"/>
<circle cx="97.4" cy="306.8" r="1.15" fill="#787878"/>
<circle cx="102.25" cy="306.8" r="1.15" fill="#787878"/>
<circle cx="114.35" cy="327.3" r="1.15" fill="#787878"/>
<circle cx="119.2" cy="327.3" r="1.15" fill="#787878"/>
<circle cx="124.05" cy="327.3" r="1.15" fill="#787878"/>
<circle cx="134.75" cy="324.7" r="1.15" fill="#787878"/>
<circle cx="139.6" cy="324.7" r="1.15" fill="#787878"/>
<circle cx="144.45" cy="324.7" r="1.15" fill="#787878"/>
<circle cx="162.1" cy="316.3" r="1.15" fill="#787878"/>
<text x="209.9" y="286.3" font-family='"Liberation Sans", sans-serif' font-weight="bold" font-size="8.9" class="t2">F</text>
<line x1="255.3" y1="293.4" x2="255.3" y2="382.2" stroke="#000" stroke-width="1.25"/>
<line x1="251.5" y1="382.2" x2="362.6" y2="382.2" stroke="#000" stroke-width="1.25"/>
<line x1="251.5" y1="382.2" x2="255.3" y2="382.2" stroke="#000" stroke-width="0.95"/>
<text x="249.5" y="384.3" text-anchor="end" font-family='"Liberation Serif", serif' font-weight="bold" font-size="6.3" fill="#222" textLength="8.6" lengthAdjust="spacingAndGlyphs">0.0</text>
<line x1="251.5" y1="352.7" x2="255.3" y2="352.7" stroke="#000" stroke-width="0.95"/>
<text x="249.5" y="354.8" text-anchor="end" font-family='"Liberation Serif", serif' font-weight="bold" font-size="6.3" fill="#222" textLength="8.6" lengthAdjust="spacingAndGlyphs">0.5</text>
<line x1="251.5" y1="323.2" x2="255.3" y2="323.2" stroke="#000" stroke-width="0.95"/>
<text x="249.5" y="325.3" text-anchor="end" font-family='"Liberation Serif", serif' font-weight="bold" font-size="6.3" fill="#222" textLength="8.6" lengthAdjust="spacingAndGlyphs">1.0</text>
<line x1="251.5" y1="293.7" x2="255.3" y2="293.7" stroke="#000" stroke-width="0.95"/>
<text x="249.5" y="295.8" text-anchor="end" font-family='"Liberation Serif", serif' font-weight="bold" font-size="6.3" fill="#222" textLength="8.6" lengthAdjust="spacingAndGlyphs">1.5</text>
<text transform="translate(233.4,334.2) rotate(-90)" text-anchor="middle" font-family='"Liberation Serif", serif' font-weight="bold" font-size="8.15" fill="#111" class="t2">Serum LDL-C(mmol/L)</text>
<line x1="269.25" y1="352" x2="269.25" y2="353.3" stroke="#444" stroke-width="0.75"/>
<line x1="266.05" y1="352" x2="272.45" y2="352" stroke="#444" stroke-width="0.75"/>
<rect x="263.3" y="354" width="11.9" height="28.2" fill="#000" stroke="#000" stroke-width="1.4"/>
<line x1="269.25" y1="382.2" x2="269.25" y2="386" stroke="#000" stroke-width="0.95"/>
<text x="264.9" y="395.4" text-anchor="middle" font-family='"Liberation Serif", serif' font-size="8.3" fill="#111" class="t">Control</text>
<line x1="289.05" y1="312.3" x2="289.05" y2="318.3" stroke="#444" stroke-width="0.75"/>
<line x1="285.85" y1="312.3" x2="292.25" y2="312.3" stroke="#444" stroke-width="0.75"/>
<rect x="283.1" y="319" width="11.9" height="63.2" fill="#a0a0a0" stroke="#000" stroke-width="1.4"/>
<line x1="289.05" y1="382.2" x2="289.05" y2="386" stroke="#000" stroke-width="0.95"/>
<text x="291" y="395.4" text-anchor="middle" font-family='"Liberation Serif", serif' font-size="8.3" fill="#111" class="t">HFD</text>
<line x1="309.7" y1="340.3" x2="309.7" y2="345.6" stroke="#444" stroke-width="0.75"/>
<line x1="306.5" y1="340.3" x2="312.9" y2="340.3" stroke="#444" stroke-width="0.75"/>
<rect x="303.9" y="346.3" width="11.6" height="35.9" fill="#d9d9d9" stroke="#000" stroke-width="1.4"/>
<line x1="309.7" y1="382.2" x2="309.7" y2="386" stroke="#000" stroke-width="0.95"/>
<text x="311.3" y="395.4" text-anchor="middle" font-family='"Liberation Serif", serif' font-size="8.3" fill="#111" class="t">SIM</text>
<line x1="329.5" y1="348.9" x2="329.5" y2="351.6" stroke="#444" stroke-width="0.75"/>
<line x1="326.3" y1="348.9" x2="332.7" y2="348.9" stroke="#444" stroke-width="0.75"/>
<rect x="323.8" y="352.3" width="11.4" height="29.9" fill="#d9d9d9" stroke="#000" stroke-width="1.4"/>
<line x1="329.5" y1="382.2" x2="329.5" y2="386" stroke="#000" stroke-width="0.95"/>
<text x="333.4" y="395.4" text-anchor="middle" font-family='"Liberation Serif", serif' font-size="8.3" fill="#111" class="t">LIDT</text>
<line x1="349.85" y1="333.2" x2="349.85" y2="335.6" stroke="#444" stroke-width="0.75"/>
<line x1="346.65" y1="333.2" x2="353.05" y2="333.2" stroke="#444" stroke-width="0.75"/>
<rect x="344" y="336.3" width="11.7" height="45.9" fill="#5e5e5e" stroke="#000" stroke-width="1.4"/>
<line x1="349.85" y1="382.2" x2="349.85" y2="386" stroke="#000" stroke-width="0.95"/>
<text x="356.4" y="395.4" text-anchor="middle" font-family='"Liberation Serif", serif' font-size="8.3" fill="#111" class="t">HIDT</text>
<circle cx="283.25" cy="305.3" r="1.15" fill="#787878"/>
<circle cx="288.1" cy="305.3" r="1.15" fill="#787878"/>
<circle cx="292.95" cy="305.3" r="1.15" fill="#787878"/>
<circle cx="304.05" cy="332.5" r="1.15" fill="#787878"/>
<circle cx="308.9" cy="332.5" r="1.15" fill="#787878"/>
<circle cx="313.75" cy="332.5" r="1.15" fill="#787878"/>
<circle cx="324.65" cy="342.8" r="1.15" fill="#787878"/>
<circle cx="329.5" cy="342.8" r="1.15" fill="#787878"/>
<circle cx="334.35" cy="342.8" r="1.15" fill="#787878"/>
<circle cx="343.55" cy="327.3" r="1.15" fill="#787878"/>
<circle cx="348.4" cy="327.3" r="1.15" fill="#787878"/>
<circle cx="353.25" cy="327.3" r="1.15" fill="#787878"/>
<rect x="342.8" y="337.4" width="2.3" height="8.3" fill="#fff"/>
<rect x="344.9" y="337.4" width="0.7" height="8.3" fill="#777"/>
</svg>
</body></html>
